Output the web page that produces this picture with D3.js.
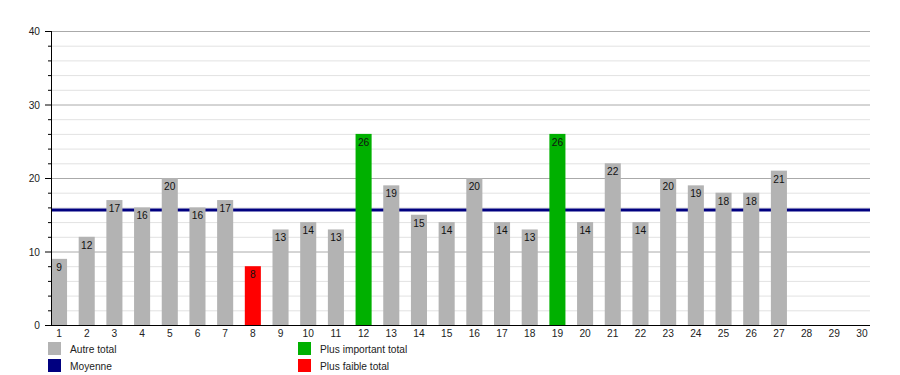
<!DOCTYPE html>
<html>
<head>
<meta charset="utf-8">
<script src="https://cdn.jsdelivr.net/npm/d3@7/dist/d3.min.js"></script>
<style>
  html, body { margin: 0; padding: 0; background: #fff; }
  svg { display: block; font-family: "Liberation Sans", Arial, sans-serif; }
</style>
</head>
<body>
<svg id="chart" width="900" height="375"></svg>
<script>
const days = d3.range(1, 31).map(String);
const totals = [9,12,17,16,20,16,17,8,13,14,13,26,19,15,14,20,14,13,26,14,22,14,20,19,18,18,21];
const meanValue = 15.65;
const yTicks = [0, 10, 20, 30, 40];
const minorTicks = d3.range(0, 41, 2);
const legendItems = [
  { label: "Autre total", color: "#b3b3b3", col: 0, row: 0 },
  { label: "Moyenne", color: "#000080", col: 0, row: 1 },
  { label: "Plus important total", color: "#00b000", col: 1, row: 0 },
  { label: "Plus faible total", color: "#ff0000", col: 1, row: 1 }
];

const svg = d3.select("#chart");
const plotLeft = 51, plotRight = 870, plotTop = 31, plotBottom = 325;
const fs = 10.2;

const x = d3.scaleBand().domain(days).range([plotLeft, plotRight]).paddingInner(0.42).paddingOuter(0);
const y = d3.scaleLinear().domain([0, 40]).range([plotBottom, plotTop]);

const maxV = d3.max(totals), minV = d3.min(totals);
function colorFor(v) {
  if (v === maxV) return "#00b000";
  if (v === minV) return "#ff0000";
  return "#b3b3b3";
}

// minor gridlines
svg.append("g").selectAll("line").data(minorTicks.filter(d => d % 10 !== 0)).join("line")
  .attr("x1", plotLeft).attr("x2", plotRight)
  .attr("y1", d => y(d) + 0.5).attr("y2", d => y(d) + 0.5)
  .attr("stroke", "#e2e2e2").attr("stroke-width", 1);
// major gridlines
svg.append("g").selectAll("line").data(yTicks.filter(d => d > 0)).join("line")
  .attr("x1", plotLeft).attr("x2", plotRight)
  .attr("y1", d => y(d) + 0.5).attr("y2", d => y(d) + 0.5)
  .attr("stroke", "#aaaaaa").attr("stroke-width", 1);

// mean line (behind bars)
svg.append("line")
  .attr("x1", plotLeft).attr("x2", plotRight)
  .attr("y1", y(meanValue)).attr("y2", y(meanValue))
  .attr("stroke", "#000080").attr("stroke-width", 3);

// bars
svg.append("g").selectAll("rect").data(totals).join("rect")
  .attr("x", (d, i) => x(days[i]))
  .attr("y", d => y(d))
  .attr("width", x.bandwidth())
  .attr("height", d => y(0) - y(d))
  .attr("fill", d => colorFor(d));

// value labels
svg.append("g").selectAll("text").data(totals).join("text")
  .attr("x", (d, i) => x(days[i]) + x.bandwidth() / 2)
  .attr("y", d => y(d) + 12)
  .attr("text-anchor", "middle")
  .attr("font-size", fs)
  .attr("fill", "#111")
  .text(d => d);

// y axis
const yAxis = svg.append("g");
yAxis.append("line").attr("x1", plotLeft + 0.5).attr("x2", plotLeft + 0.5).attr("y1", plotTop).attr("y2", plotBottom)
  .attr("stroke", "#000").attr("stroke-width", 1);
yAxis.selectAll("line.minor").data(minorTicks.filter(d => d % 10 !== 0)).join("line")
  .attr("class", "minor")
  .attr("x1", plotLeft - 3).attr("x2", plotLeft)
  .attr("y1", d => y(d) + 0.5).attr("y2", d => y(d) + 0.5)
  .attr("stroke", "#000");
yAxis.selectAll("line.major").data(yTicks).join("line")
  .attr("class", "major")
  .attr("x1", plotLeft - 6).attr("x2", plotLeft)
  .attr("y1", d => y(d) + 0.5).attr("y2", d => y(d) + 0.5)
  .attr("stroke", "#000");
yAxis.selectAll("text").data(yTicks).join("text")
  .attr("x", plotLeft - 11).attr("y", d => y(d) + 4)
  .attr("text-anchor", "end").attr("font-size", fs).attr("fill", "#222")
  .text(d => d);

// x axis
const xAxis = svg.append("g");
xAxis.append("line").attr("x1", plotLeft).attr("x2", plotRight).attr("y1", plotBottom + 0.5).attr("y2", plotBottom + 0.5)
  .attr("stroke", "#000").attr("stroke-width", 1.2);
xAxis.selectAll("text").data(days).join("text")
  .attr("x", d => x(d) + x.bandwidth() / 2)
  .attr("y", plotBottom + 11.5)
  .attr("text-anchor", "middle").attr("font-size", fs).attr("fill", "#222")
  .text(d => d);

// legend
const leg = svg.append("g").selectAll("g").data(legendItems).join("g")
  .attr("transform", d => `translate(${d.col === 0 ? 48 : 298},${342 + d.row * 17})`);
leg.append("rect").attr("width", 13).attr("height", 13).attr("fill", d => d.color);
leg.append("text").attr("x", 22).attr("y", 11)
  .attr("font-size", fs).attr("fill", "#222").text(d => d.label);
</script>
</body>
</html>
